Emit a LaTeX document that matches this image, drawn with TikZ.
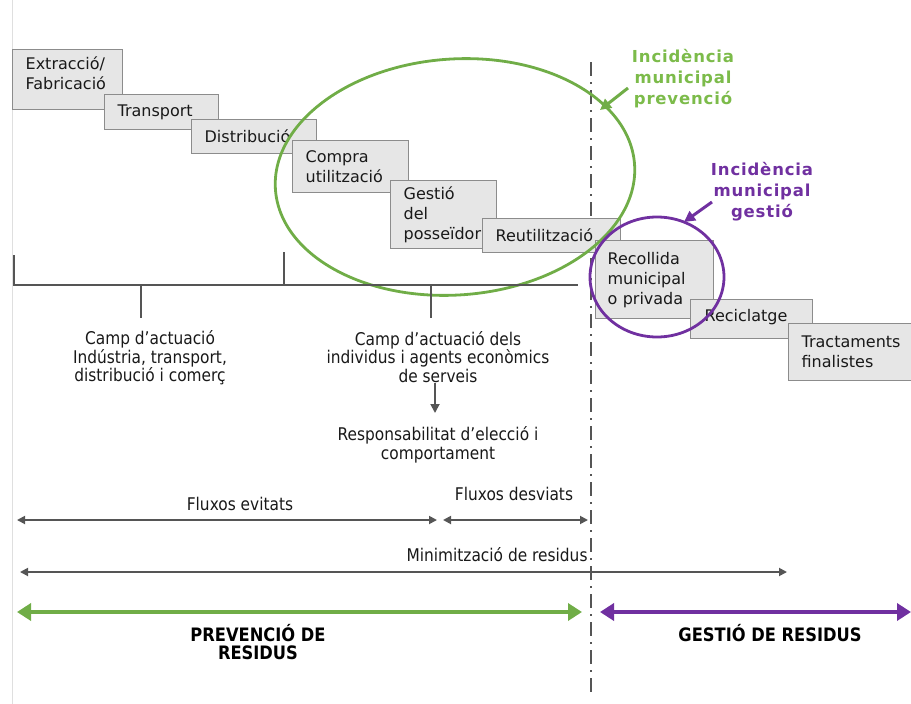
\documentclass[tikz,border=0pt]{standalone}
\usepackage{fontspec}
\setmainfont{DejaVu Sans}
\newfontfamily\condf[FakeStretch=0.88]{DejaVu Sans}
\newfontfamily\spacedf[LetterSpace=5]{DejaVu Sans}
\usetikzlibrary{arrows.meta}
\definecolor{boxfill}{HTML}{E6E6E6}
\definecolor{boxline}{HTML}{8C8C8C}
\definecolor{pgreen}{HTML}{70AD47}
\definecolor{lgreen}{HTML}{7CBB4A}
\definecolor{ppurple}{HTML}{7030A0}
\definecolor{darkg}{HTML}{555555}
\begin{document}
\begin{tikzpicture}[x=1pt,y=-1pt,
  stage/.style 2 args={draw=boxline, line width=1.3pt, fill=boxfill, anchor=north west,
    align=left, inner xsep=13pt, inner ysep=2pt, text width=#1, minimum height=#2,
    font=\fontsize{16}{20}\selectfont, text=black!90},
  note/.style={align=center, font=\condf\fontsize{17.5}{18.5}\selectfont, text=black!90},
  flow/.style={draw=darkg, line width=1.8pt, {Triangle[length=8pt,width=8pt]}-{Triangle[length=8pt,width=8pt]}},
  incid/.style={align=center, font=\spacedf\bfseries\fontsize{16.5}{21}\selectfont},
  bigarrow/.style={line width=4.5pt, {Triangle[length=14pt,width=17pt]}-{Triangle[length=14pt,width=17pt]}},
  ptr/.style={line width=3pt, -{Triangle[length=11pt,width=11pt]}},
  phase/.style={align=center, font=\condf\bfseries\fontsize{18.5}{18}\selectfont, text=black}
]
\useasboundingbox (0,0) rectangle (911,704);
% faint left line
\draw[gray!25, line width=1pt] (12,0) -- (12,704);
% dash-dot separator
\draw[darkg, line width=1.5pt, dash pattern=on 14pt off 6pt on 2pt off 6pt] (591,62) -- (591,692);

% stages
\node[stage={84pt}{60pt}, text depth=34pt] (ext) at (12,49) {Extracció/\\Fabricació};
\node[stage={88pt}{35pt}] (tra) at (104,94) {Transport};
\node[stage={99pt}{34pt}] (dis) at (191,119) {Distribució};
\node[stage={90pt}{52pt}] (com) at (292,140) {Compra\\utilització};
\node[stage={80pt}{68pt}] (ges) at (390,180) {Gestió\\del\\posseïdor};
\node[stage={112pt}{34pt}] (reu) at (482,218) {Reutilització};
\node[stage={94pt}{78pt}, inner xsep=12pt] (rec) at (595,240) {Recollida\\municipal\\o privada};
\node[stage={94pt}{39pt}, inner xsep=14pt, text depth=8pt] (rcl) at (690,299) {Reciclatge};
\node[stage={99pt}{57pt}] (trc) at (788,323) {Tractaments\\finalistes};

% ellipses
\draw[pgreen, line width=2.8pt, rotate around={4:(455,177)}] (455,177) ellipse [x radius=180pt, y radius=118pt];
\draw[ppurple, line width=2.8pt] (657,277) ellipse [x radius=67pt, y radius=60pt];

% labels incidencia
\node[incid, text=lgreen] (ip) at (683,79) {Incidència\\municipal\\prevenció};
\node[incid, text=ppurple] (ig) at (762,192) {Incidència\\municipal\\gestió};
\coordinate (ipa) at (628,88); \coordinate (ipb) at (600,110);
\coordinate (iga) at (712,202); \coordinate (igb) at (684,222);
\draw[ptr, pgreen] (ipa) -- (ipb);
\draw[ptr, ppurple] (iga) -- (igb);

% bracket
\draw[darkg, line width=1.8pt] (14,255) -- (14,285) -- (578,285);
\draw[darkg, line width=1.8pt] (284,252) -- (284,285);
\draw[darkg, line width=1.8pt] (141,285) -- (141,318);
\draw[darkg, line width=1.8pt] (431,285) -- (431,318);

\node[note] (camp1) at (150,358) {Camp d’actuació\\Indústria, transport,\\distribució i comerç};
\node[note] (camp2) at (438,357) {Camp d’actuació dels\\individus i agents econòmics\\de serveis};
\node[note] (resp) at (438,445) {Responsabilitat d’elecció i\\comportament};
\coordinate (ra) at (435,383); \coordinate (rb) at (435,413);
\draw[darkg, line width=1.8pt, -{Triangle[length=9pt,width=9pt]}] (ra) -- (rb);

% flows
\node[note] (fev) at (240,504) {Fluxos evitats};
\node[note] (fds) at (514,494) {Fluxos desviats};
\node[note] (min) at (497,555) {Minimització de residus};
\coordinate (fe1) at (17,520); \coordinate (fe2) at (437,520);
\coordinate (fd1) at (443,520); \coordinate (fd2) at (588,520);
\coordinate (mn1) at (20,572); \coordinate (mn2) at (787,572);
\draw[flow] (fe1) -- (fe2);
\draw[flow] (fd1) -- (fd2);
\draw[flow] (mn1) -- (mn2);

% phases
\coordinate (pv1) at (17,612); \coordinate (pv2) at (582,612);
\coordinate (gs1) at (600,612); \coordinate (gs2) at (911,612);
\draw[bigarrow, pgreen] (pv1) -- (pv2);
\draw[bigarrow, ppurple] (gs1) -- (gs2);
\node[phase] (prev) at (258,642) {PREVENCIÓ DE\\RESIDUS};
\node[phase] (gest) at (770,633) {GESTIÓ DE RESIDUS};
\end{tikzpicture}
\end{document}
